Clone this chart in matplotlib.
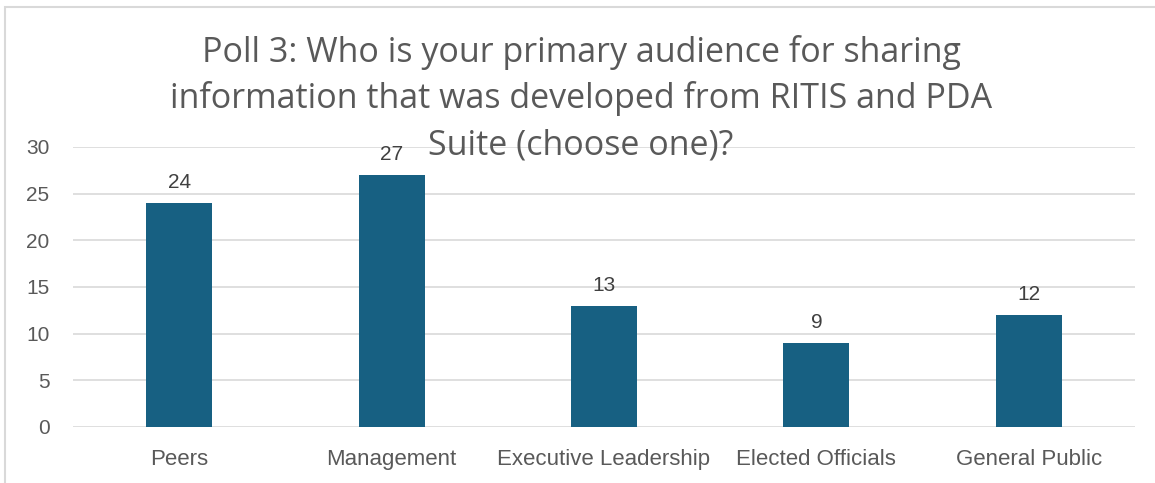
import matplotlib.pyplot as plt
import numpy as np
from matplotlib.patches import Rectangle

# poll responses
categories = ["Peers", "Management", "Executive Leadership", "Elected Officials", "General Public"]
counts = [24, 27, 13, 9, 12]
yticks = [0, 5, 10, 15, 20, 25, 30]
title_lines = ["Poll 3: Who is your primary audience for sharing",
               "information that was developed from RITIS and PDA",
               "Suite (choose one)?"]

gray = "#595959"
bar_color = "#176082"

fig = plt.figure(figsize=(11.55, 4.83), dpi=100)
ax = fig.add_axes([73/1155, 1 - 427/483, (1135-73)/1155, (427-147)/483])

x = np.arange(len(categories))
bars = ax.bar(x, counts, width=0.31, color=bar_color, zorder=3)

# value labels
for bar in bars:
    h = bar.get_height()
    ax.annotate(f"{h:g}", (bar.get_x() + bar.get_width()/2, h), xytext=(0, 8),
                textcoords="offset points", ha="center", va="bottom",
                fontsize=15, color="#404040", family="Liberation Sans")

ax.set_xlim(-0.5, len(categories) - 0.5)
ax.set_ylim(0, 30)
ax.set_yticks(yticks)
ax.set_xticks(x, categories)
ax.tick_params(length=0, labelcolor=gray)
ax.tick_params(axis="x", labelsize=16, pad=16)
ax.tick_params(axis="y", labelsize=15, pad=17)
for lab in ax.get_xticklabels() + ax.get_yticklabels():
    lab.set_family("Liberation Sans")
ax.grid(axis="y", color="#d9d9d9", linewidth=1.2, zorder=0)
for s in ax.spines.values():
    s.set_visible(False)

# title, one line at a time (baselines in px from top)
for line, base in zip(title_lines, [62, 108.5, 155]):
    fig.text(581/1155, 1 - base/483, line, ha="center", va="baseline", fontsize=24.5,
             color=gray, family="Open Sans", zorder=5)

# chart border
fig.patches.append(Rectangle((5/1155, -0.1), 1.2, 1 - 7/483 + 0.1, transform=fig.transFigure,
                             fill=False, edgecolor="#d9d9d9", linewidth=1.5))

fig.savefig("out.png", dpi=100)
